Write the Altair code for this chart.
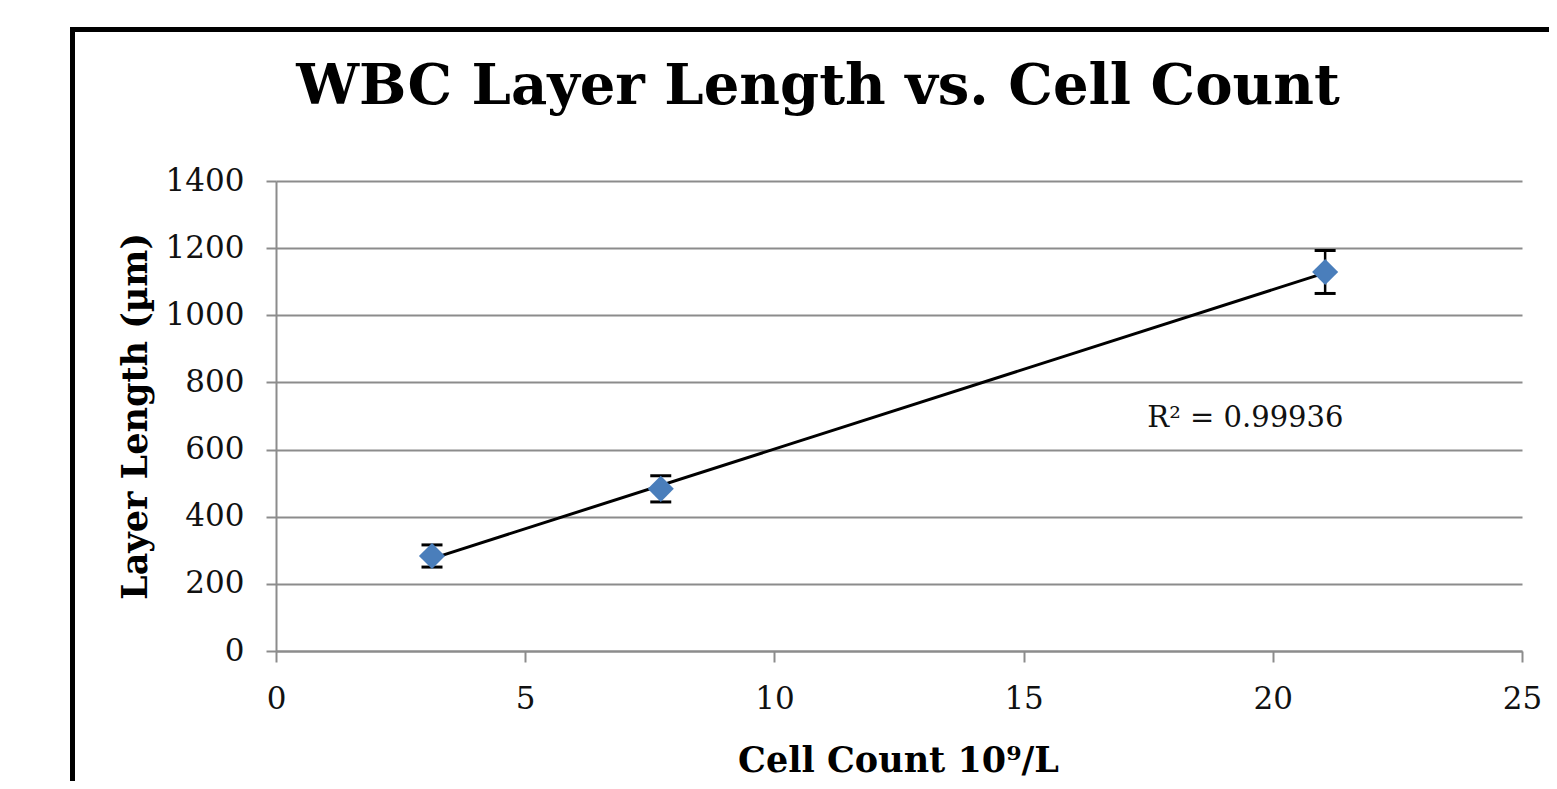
import altair as alt
import pandas as pd

# Data
cell_count = [3.13, 7.72, 21.05]
layer_length = [283, 483, 1129]
error = [33, 39, 64]

chart_title = "WBC Layer Length vs. Cell Count"
x_title = "Cell Count 10⁹/L"
y_title = "Layer Length (µm)"
r2_label = ["R² = 0.99936"]
r2_x = [19.45]
r2_y = [668]

x_ticks = [0, 5, 10, 15, 20, 25]
y_ticks = [0, 200, 400, 600, 800, 1000, 1200, 1400]

df = pd.DataFrame({"x": cell_count, "y": layer_length, "err": error})
df["lo"] = df["y"] - df["err"]
df["hi"] = df["y"] + df["err"]

FONT = "DejaVu Serif"
GRAY = "#8c8c8c"

xs = alt.Scale(domain=[0, 25], nice=False)
ys = alt.Scale(domain=[0, 1400], nice=False)

x_axis = alt.Axis(values=x_ticks, title=x_title, grid=False, tickSize=11, format="d",
                  labelPadding=22, labelFlush=False, titleX=622, titleY=120,
                  titleBaseline="alphabetic")
y_axis = alt.Axis(values=y_ticks, title=y_title, grid=True, tickSize=10, format="d",
                  labelPadding=22, titleX=-141, titleY=235, titleAngle=-90,
                  titleBaseline="middle", titleFontSize=35)

base = alt.Chart(df)

trend = base.transform_regression("x", "y").mark_line(color="black", strokeWidth=3).encode(
    x=alt.X("x:Q", scale=xs, axis=x_axis),
    y=alt.Y("y:Q", scale=ys, axis=y_axis),
)

bars = base.mark_rule(color="black", strokeWidth=2.5, opacity=1).encode(
    x=alt.X("x:Q", scale=xs), y=alt.Y("lo:Q", scale=ys), y2="hi:Q"
)
cap_lo = base.mark_tick(color="black", orient="horizontal", size=21, thickness=3, opacity=1).encode(
    x=alt.X("x:Q", scale=xs), y=alt.Y("lo:Q", scale=ys)
)
cap_hi = base.mark_tick(color="black", orient="horizontal", size=21, thickness=3, opacity=1).encode(
    x=alt.X("x:Q", scale=xs), y=alt.Y("hi:Q", scale=ys)
)

points = base.mark_point(shape="diamond", filled=True, color="#4a7ebb", size=680, opacity=1).encode(
    x=alt.X("x:Q", scale=xs), y=alt.Y("y:Q", scale=ys)
)

r2 = alt.Chart(pd.DataFrame({"x": r2_x, "y": r2_y, "t": r2_label})).mark_text(
    font=FONT, fontSize=29, color="#111111", align="center", baseline="alphabetic"
).encode(x=alt.X("x:Q", scale=xs), y=alt.Y("y:Q", scale=ys), text="t:N")

title = alt.Chart(pd.DataFrame({"t": [chart_title]})).mark_text(
    font=FONT, fontSize=56, fontWeight="bold", color="black", align="center", baseline="alphabetic"
).encode(x=alt.value(542), y=alt.value(-77), text="t:N")

frame_left = alt.Chart(pd.DataFrame({"a": [0]})).mark_rule(color="black", strokeWidth=5).encode(
    x=alt.value(-203.5), y=alt.value(-154), y2=alt.value(620)
)
frame_top = alt.Chart(pd.DataFrame({"a": [0]})).mark_rule(color="black", strokeWidth=5).encode(
    x=alt.value(-206), x2=alt.value(1300), y=alt.value(-151.5)
)

chart = alt.layer(trend, bars, cap_lo, cap_hi, points, r2, title, frame_left, frame_top).properties(
    width=1246, height=470,
    autosize=alt.AutoSizeParams(type="none"),
    padding={"left": 268, "top": 173, "right": 27, "bottom": 130},
    background="white",
).configure_view(stroke=None).configure_axis(
    labelFont=FONT, labelFontSize=31, labelColor="#111111",
    titleFont=FONT, titleFontSize=35, titleFontWeight="bold", titleColor="black",
    domainColor=GRAY, domainWidth=2, tickColor=GRAY, tickWidth=2,
    gridColor=GRAY, gridWidth=2, gridOpacity=1,
)

chart.save("out.html", embed_options={"renderer": "svg", "actions": False})
